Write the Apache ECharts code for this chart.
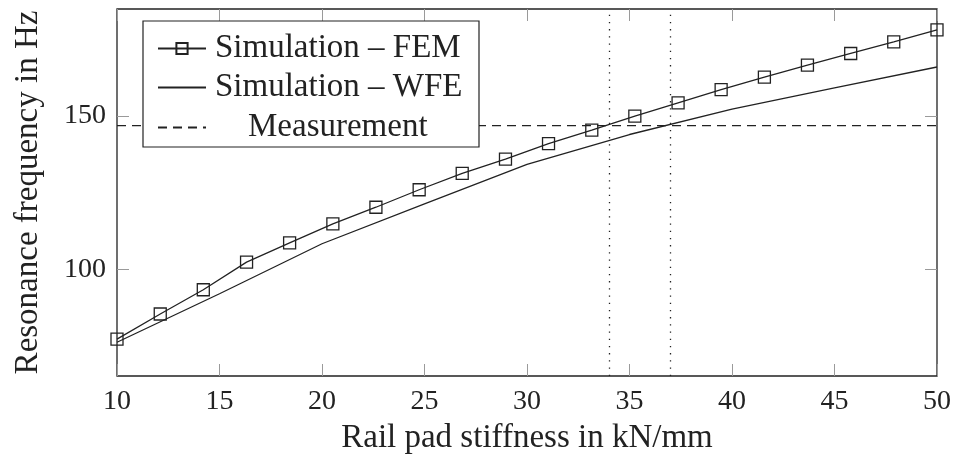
<!DOCTYPE html>
<html>
<head>
<meta charset="utf-8">
<script src="https://cdn.jsdelivr.net/npm/echarts@6/dist/echarts.min.js"></script>
<style>
html,body{margin:0;padding:0;background:#fff;}
#chart{width:954px;height:460px;}
</style>
</head>
<body>
<div id="chart"></div>
<script>
// ---- data ----
const femX = [10, 12.11, 14.21, 16.32, 18.42, 20.53, 22.63, 24.74, 26.84, 28.95, 31.05, 33.16, 35.26, 37.37, 39.47, 41.58, 43.68, 45.79, 47.89, 50];
const femY = [77.2, 85.4, 93.3, 102.3, 108.6, 114.8, 120.2, 125.9, 131.2, 135.9, 140.9, 145.3, 149.9, 154.2, 158.5, 162.6, 166.5, 170.3, 174.1, 178.0];
const wfeX = [10, 15, 20, 25, 30, 35, 40, 45, 50];
const wfeY = [76.2, 92.0, 108.3, 121.3, 134.2, 143.9, 152.2, 159.1, 165.9];
const measX = [10, 50];
const measY = [146.8, 146.8];
const markerX = [34, 37];
const xTicks = [10, 15, 20, 25, 30, 35, 40, 45, 50];
const yTicks = [100, 150];
const names = ['Simulation – FEM', 'Simulation – WFE', 'Measurement'];

const FONT = '"Liberation Serif", serif';
const INK = '#222';
const pair = (xs, ys) => xs.map((x, i) => [x, ys[i]]);

const chart = echarts.init(document.getElementById('chart'), null, {renderer: 'canvas'});

const tickStyle = {show: true, inside: true, length: 12, lineStyle: {color: '#9a9a9a', width: 1}};
const legendText = (pad) => ({fontFamily: FONT, fontSize: 33, color: INK, padding: [0, 0, 0, pad]});
const hiddenSymbol = {color: 'rgba(0,0,0,0)', borderColor: 'rgba(0,0,0,0)', borderWidth: 0};

const option = {
  backgroundColor: '#fff',
  animation: false,
  grid: {left: 117, right: 17, top: 9, bottom: 84, show: true, borderColor: INK, borderWidth: 1.3, backgroundColor: 'transparent'},
  xAxis: [{
    type: 'value', min: 10, max: 50, interval: 5, position: 'bottom',
    name: 'Rail pad stiffness in kN/mm', nameLocation: 'middle', nameGap: 46,
    nameTextStyle: {fontFamily: FONT, fontSize: 33, color: INK},
    axisLine: {show: false}, splitLine: {show: false},
    axisTick: tickStyle,
    axisLabel: {fontFamily: FONT, fontSize: 28, color: INK, margin: 12,
      customValues: xTicks}
  }, {
    type: 'value', min: 10, max: 50, interval: 5, position: 'top',
    axisLine: {show: false}, splitLine: {show: false},
    axisTick: tickStyle, axisLabel: {show: false}
  }],
  yAxis: [{
    type: 'value', min: 65.2, max: 184.8, position: 'left',
    name: 'Resonance frequency in Hz', nameLocation: 'middle', nameGap: 72,
    nameTextStyle: {fontFamily: FONT, fontSize: 33, color: INK},
    axisLine: {show: false}, splitLine: {show: false},
    axisTick: Object.assign({}, tickStyle, {customValues: yTicks}),
    axisLabel: {fontFamily: FONT, fontSize: 28, color: INK, margin: 11, customValues: yTicks}
  }, {
    type: 'value', min: 65.2, max: 184.8, position: 'right',
    axisLine: {show: false}, splitLine: {show: false},
    axisTick: Object.assign({}, tickStyle, {customValues: yTicks}),
    axisLabel: {show: false}
  }],
  legend: [{
    data: [names[0]], left: 152, top: 27, itemWidth: 48, itemHeight: 14,
    textStyle: legendText(4), z: 6
  }, {
    data: [names[1]], left: 152, top: 66, itemWidth: 48, itemHeight: 14,
    textStyle: legendText(4), itemStyle: hiddenSymbol, z: 6
  }, {
    data: [names[2]], left: 152, top: 106, itemWidth: 48, itemHeight: 14,
    textStyle: legendText(37), itemStyle: hiddenSymbol, z: 6
  }],
  graphic: [{
    type: 'rect', z: 5,
    shape: {x: 143, y: 21, width: 336, height: 126},
    style: {fill: '#fff', stroke: INK, lineWidth: 1.2}
  }],
  series: [{
    name: names[0], type: 'line', data: pair(femX, femY),
    symbol: 'rect', symbolSize: 12, showAllSymbol: true,
    lineStyle: {color: INK, width: 1.3},
    itemStyle: {color: 'rgba(0,0,0,0)', borderColor: INK, borderWidth: 1.3},
    z: 3
  }, {
    name: names[1], type: 'line', data: pair(wfeX, wfeY),
    symbol: 'none', lineStyle: {color: INK, width: 1.3}, itemStyle: {color: INK},
    z: 3
  }, {
    name: names[2], type: 'line', data: pair(measX, measY),
    symbol: 'none', lineStyle: {color: INK, width: 1.2, type: [9, 6]}, itemStyle: {color: INK},
    z: 2,
    markLine: {
      silent: true, symbol: 'none', label: {show: false},
      lineStyle: {color: INK, width: 1.3, type: [1.3, 5.9]},
      data: markerX.map(v => ({xAxis: v}))
    }
  }]
};
chart.setOption(option);
</script>
</body>
</html>
